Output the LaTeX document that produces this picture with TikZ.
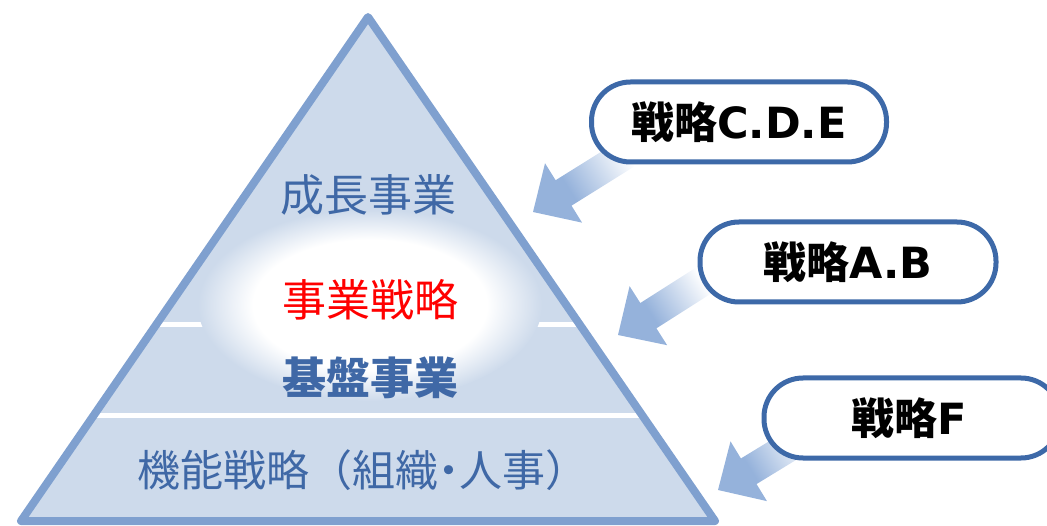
\documentclass[tikz,border=0pt]{standalone}
\usepackage{fontspec}
\newfontfamily\cjk{Noto Sans CJK JP}
\newfontfamily\latinb{DejaVu Sans}
\usetikzlibrary{calc}
\definecolor{trifill}{HTML}{CDDAEB}
\definecolor{triedge}{HTML}{7FA0CF}
\definecolor{boxedge}{HTML}{3D69A8}
\definecolor{txtblue}{HTML}{3F68A6}
\definecolor{arrowblue}{HTML}{95B2DB}
\pgfdeclareradialshading{glow}{\pgfpoint{0bp}{0bp}}{color(0bp)=(white); color(17bp)=(white); color(25bp)=(trifill); color(50bp)=(trifill)}
\pgfdeclareverticalshading{arrowfade}{100bp}{color(0bp)=(white); color(30bp)=(white); color(62bp)=(arrowblue); color(100bp)=(arrowblue)}
\tikzset{
  stratbox/.style={draw=boxedge, line width=5pt, fill=white, rounded corners=39pt,
    minimum height=80pt, inner sep=0pt},
  strattext/.style={inner sep=0pt, font=\fontsize{43}{43}\selectfont},
  pyrtext/.style={inner sep=0pt, font=\cjk\fontsize{44}{44}\selectfont},
  pyrbold/.style={inner sep=0pt, font=\cjk\bfseries\fontsize{44}{44}\selectfont},
  pyrsmall/.style={inner sep=0pt, font=\cjk\fontsize{43}{43}\selectfont},
  blockarrow/.style={shading=arrowfade, shading angle=#1},
}
\newcommand\fatarrow[3]{%
  \coordinate (#1h) at ($(#1)!36pt!(#2)$);
  \shade[blockarrow=#3]
    (#1) -- ($(#1h)!35pt!90:(#2)$) -- ($(#1h)!15pt!90:(#2)$)
    -- ($(#2)!15pt!-90:(#1h)$) -- ($(#2)!15pt!90:(#1h)$)
    -- ($(#1h)!15pt!-90:(#2)$) -- ($(#1h)!35pt!-90:(#2)$) -- cycle;
}
\begin{document}
\begin{tikzpicture}[x=1pt,y=-1pt]
\useasboundingbox (0,0) rectangle (1047,526);
% pyramid
\coordinate (apex) at (368,17);
\coordinate (bl) at (21,521);
\coordinate (br) at (715,521);
\begin{scope}
  \clip (apex) -- (bl) -- (br) -- cycle;
  \fill[trifill] (0,0) rectangle (740,526);
  \draw[white, line width=5pt] (0,325) -- (740,325);
  \draw[white, line width=5pt] (0,416) -- (740,416);
  \shade[shading=glow] (370,305) ellipse [x radius=172, y radius=96];
\end{scope}
\draw[triedge, line width=8pt, line join=round] (apex) -- (bl) -- (br) -- cycle;
% pyramid texts
\node[pyrtext, text=txtblue] (grow) at (368,195) {成長事業};
\node[pyrtext, text=red] (biz) at (370,300) {事業戦略};
\node[pyrbold, text=txtblue] (base) at (370,378) {基盤事業};
\node[pyrsmall, text=txtblue, anchor=west] (func) at (137,470) {機能戦略（組織\makebox[0.5em]{・}人事）};
% arrows
\coordinate (tcde) at (533,212); \coordinate (scde) at (642,144);
\coordinate (tab) at (618,335);  \coordinate (sab) at (717,272);
\coordinate (tf) at (718,490);   \coordinate (sf) at (818,429);
\fatarrow{tcde}{scde}{122}
\fatarrow{tab}{sab}{122.6}
\fatarrow{tf}{sf}{121.5}
% boxes
\node[stratbox, minimum width=295pt] (cde) at (739,122) {};
\node[strattext] (cdet) at (cde) {{\cjk\bfseries 戦略}{\latinb\bfseries C.D.E}};
\node[stratbox, minimum width=296pt] (ab) at (848,262) {};
\node[strattext] (abt) at (ab) {{\cjk\bfseries 戦略}{\latinb\bfseries A.B}};
\node[stratbox, minimum width=296pt] (f) at (912,418) {};
\node[strattext] (ft) at (909,418) {{\cjk\bfseries 戦略}{\latinb\bfseries F}};
\end{tikzpicture}
\end{document}
